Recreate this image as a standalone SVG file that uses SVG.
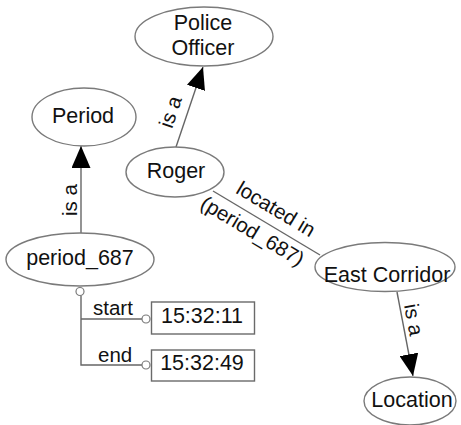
<svg xmlns="http://www.w3.org/2000/svg" width="461" height="425" viewBox="0 0 461 425">
  <style>
    .node ellipse { fill: #ffffff; stroke: #7a7a7a; stroke-width: 1.4; }
    .box rect { fill: #ffffff; stroke: #6a6a6a; stroke-width: 1.4; }
    .lbl { font-family: "Liberation Sans", Arial, sans-serif; font-size: 21.5px; fill: #111111; text-anchor: middle; }
    .elbl { font-family: "Liberation Sans", Arial, sans-serif; font-size: 20.5px; fill: #111111; }
    .edge { fill: none; stroke: #666666; stroke-width: 1.4; }
    .port { fill: #ffffff; stroke: #7a7a7a; stroke-width: 1.2; }
  </style>
  <defs>
    <marker id="arrow" viewBox="0 0 22 19" refX="22" refY="9.5" markerWidth="22" markerHeight="19" markerUnits="userSpaceOnUse" orient="auto">
      <path d="M0,0 L22,9.5 L0,19 Z" fill="#000000"/>
    </marker>
  </defs>
  <rect width="461" height="425" fill="#ffffff"/>

  <g id="connectors">
    <!-- is a relations -->
    <line class="edge" x1="176" y1="147" x2="203" y2="67" marker-end="url(#arrow)"/>
    <line class="edge" x1="81" y1="233" x2="81" y2="146" marker-end="url(#arrow)"/>
    <line class="edge" x1="397" y1="292" x2="413" y2="376" marker-end="url(#arrow)"/>
    <!-- located in -->
    <line class="edge" x1="213" y1="191" x2="320" y2="255"/>
    <!-- time attributes -->
    <polyline class="edge" points="81,295.5 81,365 142,365"/>
    <line class="edge" x1="81" y1="319" x2="142" y2="319"/>
    <circle class="port" cx="80" cy="291.5" r="4"/>
    <circle class="port" cx="146" cy="319" r="4"/>
    <circle class="port" cx="146" cy="365" r="4"/>

    <text class="elbl" text-anchor="middle" transform="translate(177,114) rotate(-71.6)">is a</text>
    <text class="elbl" text-anchor="middle" transform="translate(77,200) rotate(-90)">is a</text>
    <text class="elbl" text-anchor="middle" transform="translate(407,321) rotate(79.2)">is a</text>
    <text class="elbl" text-anchor="middle" transform="translate(272.5,215) rotate(30.9)">located in</text>
    <text class="elbl" text-anchor="middle" transform="translate(249,237) rotate(30.9)">(period_687)</text>
    <text class="elbl" x="93" y="315">start</text>
    <text class="elbl" x="98" y="362">end</text>
  </g>

  <g id="police-officer" class="node">
    <ellipse cx="204" cy="36.5" rx="69" ry="29.5"/>
    <text class="lbl" x="203" y="30">Police</text>
    <text class="lbl" x="203" y="55">Officer</text>
  </g>
  <g id="period" class="node">
    <ellipse cx="84" cy="117" rx="52" ry="29"/>
    <text class="lbl" x="83" y="123">Period</text>
  </g>
  <g id="roger" class="node">
    <ellipse cx="175" cy="172" rx="49" ry="25"/>
    <text class="lbl" x="176" y="178">Roger</text>
  </g>
  <g id="period-687" class="node">
    <ellipse cx="80" cy="259.5" rx="74" ry="26.5"/>
    <text class="lbl" x="80" y="265">period_687</text>
  </g>
  <g id="east-corridor" class="node">
    <ellipse cx="385" cy="267" rx="70" ry="24.5"/>
    <text class="lbl" x="387" y="282">East Corridor</text>
  </g>
  <g id="location" class="node">
    <ellipse cx="410" cy="401" rx="46" ry="24"/>
    <text class="lbl" x="412" y="407">Location</text>
  </g>
  <g id="start-time" class="box">
    <rect x="151.5" y="302" width="103" height="32"/>
    <text class="lbl" x="202" y="323">15:32:11</text>
  </g>
  <g id="end-time" class="box">
    <rect x="151.5" y="350" width="103" height="31"/>
    <text class="lbl" x="202" y="370">15:32:49</text>
  </g>
</svg>
